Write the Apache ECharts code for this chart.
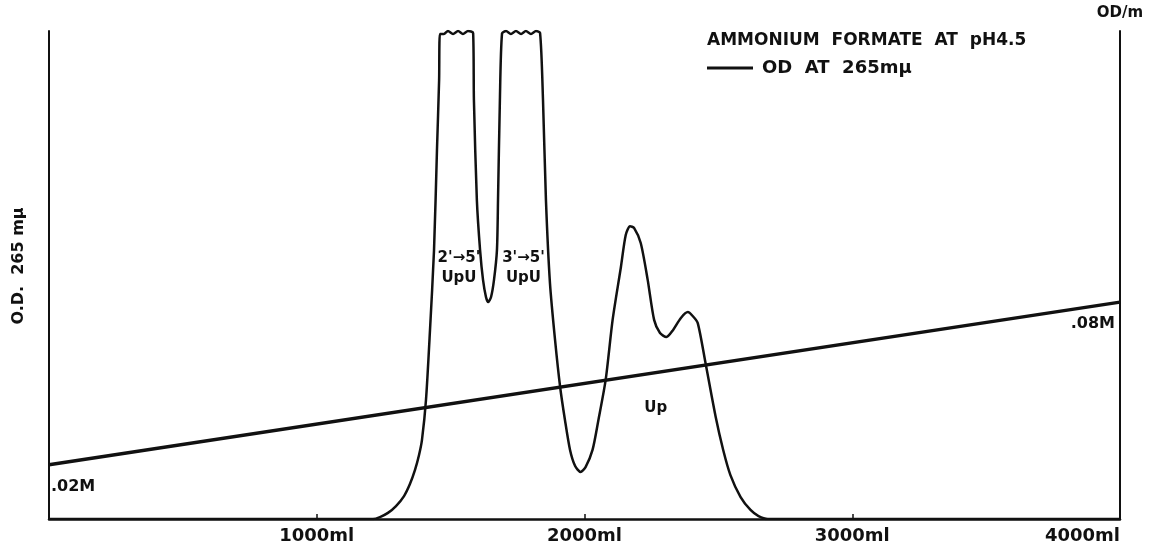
<!DOCTYPE html>
<html>
<head>
<meta charset="utf-8">
<title>UpU elution</title>
<script src="https://cdn.jsdelivr.net/npm/echarts@6/dist/echarts.min.js"></script>
<style>
  html, body { margin: 0; padding: 0; background: #fff; }
  #main { width: 1150px; height: 545px; }
</style>
</head>
<body>
<div id="main"></div>
<script>
// 洗脱体积 (ml)
var volumeMl = [0, 1210, 1236, 1266, 1296, 1326, 1348, 1367, 1382, 1393, 1408, 1423, 1438, 1449, 1457, 1460,
  1475, 1490, 1509, 1528, 1546, 1565, 1584,
  1587, 1598, 1610, 1621, 1632, 1640, 1651, 1662, 1673, 1677, 1684, 1692,
  1707, 1725, 1744, 1763, 1781, 1800, 1819, 1834,
  1845, 1856, 1871, 1890, 1909, 1927, 1946, 1965, 1985, 2004, 2030, 2052, 2079, 2105,
  2136, 2154, 2170, 2185, 2210, 2236, 2260, 2282, 2306, 2331, 2360, 2386, 2404, 2423,
  2452, 2490, 2518, 2545, 2583, 2620, 2650, 2685, 4000];
// O.D. 265 mμ (顶部超出量程)
var odValues = [0, 0, 0.008, 0.025, 0.053, 0.094, 0.143, 0.201, 0.262, 0.324, 0.488, 0.775, 1.102, 1.512, 1.799, 1.988,
  1.988, 2.0, 1.988, 2.0, 1.988, 2.0, 1.992,
  1.717, 1.307, 1.102, 0.98, 0.91, 0.889, 0.91, 0.98, 1.102, 1.307, 1.717, 1.99,
  2.0, 1.988, 2.0, 1.988, 2.0, 1.988, 2.0, 1.992,
  1.717, 1.307, 0.967, 0.734, 0.541, 0.406, 0.283, 0.217, 0.193, 0.213, 0.283, 0.406, 0.57, 0.816,
  1.033, 1.164, 1.20, 1.193, 1.131, 0.98, 0.816, 0.762, 0.746, 0.775, 0.824, 0.848, 0.832, 0.803,
  0.639, 0.418, 0.283, 0.18, 0.09, 0.037, 0.012, 0, 0];

// 甲酸铵梯度
var gradientMl = [0, 4000];
var gradientM = [0.02, 0.08];
var gradientLabels = ['.02M', '.08M'];

// 峰的标注
var peakNames = ["2'→5'\nUpU", "3'→5'\nUpU", 'Up'];
var peakMl = [1531, 1772, 2266];
var peakOd = [1.03, 1.03, 0.455];

var xTicks = [1000, 2000, 3000, 4000];

var font = 'DejaVu Sans';
var ink = '#111';

var odData = volumeMl.map(function (v, i) { return [v, odValues[i]]; });
var gradData = gradientMl.map(function (v, i) { return [v, gradientM[i]]; });
var peakData = peakNames.map(function (n, i) {
  return { name: n, coord: [peakMl[i], peakOd[i]] };
});

var myChart = echarts.init(document.getElementById('main'));

myChart.setOption({
  animation: false,
  backgroundColor: '#fff',
  title: {
    text: 'AMMONIUM  FORMATE  AT  pH4.5',
    left: 707,
    top: 32,
    padding: 0,
    textStyle: { fontFamily: font, fontWeight: 'bold', fontSize: 17, color: ink }
  },
  legend: {
    data: ['OD  AT  265mμ'],
    left: 707,
    top: 59,
    padding: 0,
    icon: 'rect',
    itemWidth: 46,
    itemHeight: 3,
    itemGap: 8,
    textStyle: { fontFamily: font, fontWeight: 'bold', fontSize: 18, color: ink, padding: [0, 0, 0, 4] }
  },
  // 不要让标签把绘图区往里挤
  grid: { left: 49, right: 30, top: 31, bottom: 26, outerBoundsMode: 'none' },
  xAxis: {
    type: 'value',
    min: 0,
    max: 4000,
    interval: 1000,
    axisLine: { lineStyle: { color: ink, width: 2.5 } },
    axisTick: { inside: true, length: 5, lineStyle: { color: ink, width: 1.5 } },
    axisLabel: {
      margin: 8,
      fontFamily: font,
      fontWeight: 'bold',
      fontSize: 18,
      color: ink,
      alignMaxLabel: 'right',
      formatter: function (v) { return xTicks.indexOf(v) >= 0 ? v + 'ml' : ''; }
    },
    splitLine: { show: false }
  },
  yAxis: [
    {
      type: 'value',
      min: 0,
      max: 2,
      name: 'O.D.  265 mμ',
      nameLocation: 'middle',
      nameGap: 22,
      nameRotate: 90,
      nameTextStyle: { fontFamily: font, fontWeight: 'bold', fontSize: 16, color: ink, padding: [0, 0, 0, 18] },
      axisLine: { show: true, lineStyle: { color: ink, width: 2 } },
      axisTick: { show: false },
      axisLabel: { show: false },
      splitLine: { show: false }
    },
    {
      type: 'value',
      min: 0,
      max: 0.18,
      position: 'right',
      name: 'OD/m',
      nameLocation: 'end',
      nameGap: 10,
      nameTextStyle: { fontFamily: font, fontWeight: 'bold', fontSize: 15, color: ink },
      axisLine: { show: true, lineStyle: { color: ink, width: 2 } },
      axisTick: { show: false },
      axisLabel: { show: false },
      splitLine: { show: false }
    }
  ],
  series: [
    {
      name: 'OD  AT  265mμ',
      type: 'line',
      yAxisIndex: 0,
      data: odData,
      smooth: 0.25,
      symbol: 'none',
      itemStyle: { color: ink },
      lineStyle: { color: ink, width: 2.5 },
      markPoint: {
        symbol: 'circle',
        symbolSize: 0,
        data: peakData,
        label: {
          show: true,
          position: 'inside',
          formatter: '{b}',
          fontFamily: font,
          fontWeight: 'bold',
          fontSize: 15,
          lineHeight: 20,
          align: 'center',
          color: ink
        }
      }
    },
    {
      name: 'gradient',
      type: 'line',
      yAxisIndex: 1,
      data: gradData,
      symbol: 'none',
      lineStyle: { color: ink, width: 3.5 },
      markPoint: {
        symbol: 'circle',
        symbolSize: 0,
        data: [
          { name: gradientLabels[0], coord: gradData[0],
            label: { position: 'inside', align: 'left', offset: [2, 22] } },
          { name: gradientLabels[1], coord: gradData[1],
            label: { position: 'inside', align: 'right', offset: [-5, 22] } }
        ],
        label: {
          show: true,
          formatter: '{b}',
          fontFamily: font,
          fontWeight: 'bold',
          fontSize: 16,
          color: ink
        }
      }
    }
  ]
});
</script>
</body>
</html>
